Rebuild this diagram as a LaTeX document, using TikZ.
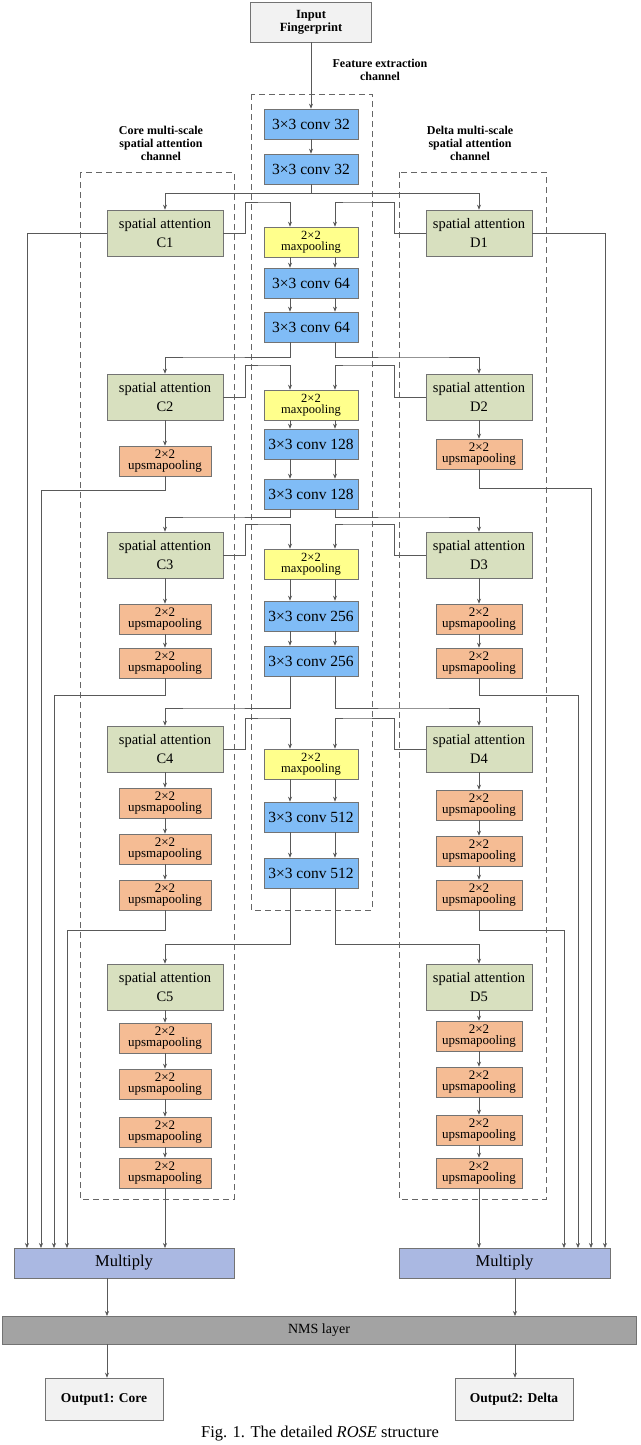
\documentclass[tikz,border=0pt]{standalone}
\usepackage{fontspec}
\setmainfont{Liberation Serif}
\usetikzlibrary{arrows.meta}
\definecolor{cblue}{HTML}{80BCF6}
\definecolor{cyel}{HTML}{FFFF8C}
\definecolor{cgreen}{HTML}{D8E0BF}
\definecolor{corange}{HTML}{F5BC94}
\definecolor{cmul}{HTML}{AAB8E2}
\definecolor{cnms}{HTML}{A3A3A3}
\definecolor{cout}{HTML}{F2F2F2}
\tikzset{
 box/.style={draw=black!55,line width=0.6pt,inner sep=0pt,align=center},
 conv/.style={box,fill=cblue,minimum width=94pt,minimum height=30pt,font=\fontsize{15.5}{16}\selectfont},
 pool/.style={box,fill=cyel,minimum width=94pt,minimum height=30pt,font=\fontsize{12.5}{11}\selectfont},
 sa/.style={box,fill=cgreen,minimum width=116pt,minimum height=46pt,font=\fontsize{14.5}{19}\selectfont},
 ups/.style={box,fill=corange,minimum width=92pt,minimum height=30pt,font=\fontsize{13}{11}\selectfont},
 dbox/.style={draw=black!60,dash pattern=on 6pt off 4pt,line width=0.8pt},
 ttl/.style={font=\bfseries\fontsize{12}{13}\selectfont,align=center},
 arr/.style={draw=black!65,line width=0.6pt,-{Stealth[length=5pt,width=4pt]}},
 ln/.style={draw=black!65,line width=0.6pt}
}
\begin{document}
\begin{tikzpicture}[x=1pt,y=-1pt]
\useasboundingbox (0,0) rectangle (640,1445);
\draw[dbox] (251,94) rectangle (372,910);
\draw[dbox] (80,172) rectangle (234,1199);
\draw[dbox] (399,172) rectangle (546,1199);
\node[ttl] (tf) at (380,70) {Feature extraction\\channel};
\node[ttl] (tc) at (161,143) {Core multi-scale\\spatial attention\\channel};
\node[ttl] (td) at (470,143) {Delta multi-scale\\spatial attention\\channel};
\node[box,fill=cout,minimum width=121pt,minimum height=40pt,font=\bfseries\fontsize{12.5}{13}\selectfont] (in) at (311,22) {Input\\Fingerprint};
\node[conv] (c1) at (311,124) {3×3 conv 32};
\node[conv] (c2) at (311,169) {3×3 conv 32};
\node[pool] (m1) at (311,242) {2×2\\maxpooling};
\node[conv] (c3) at (311,283) {3×3 conv 64};
\node[conv] (c4) at (311,327) {3×3 conv 64};
\node[pool] (m2) at (311,405) {2×2\\maxpooling};
\node[conv] (c5) at (311,444) {3×3 conv 128};
\node[conv] (c6) at (311,494) {3×3 conv 128};
\node[pool] (m3) at (311,564) {2×2\\maxpooling};
\node[conv] (c7) at (311,616) {3×3 conv 256};
\node[conv] (c8) at (311,661) {3×3 conv 256};
\node[pool] (m4) at (311,764) {2×2\\maxpooling};
\node[conv] (c9) at (311,817) {3×3 conv 512};
\node[conv] (c10) at (311,873) {3×3 conv 512};
\node[sa] (C1) at (165,233) {spatial attention\\C1};
\node[sa] (C2) at (165,397) {spatial attention\\C2};
\node[sa] (C3) at (165,555) {spatial attention\\C3};
\node[sa] (C4) at (165,749) {spatial attention\\C4};
\node[sa] (C5) at (165,987) {spatial attention\\C5};
\node[sa,minimum width=106pt] (D1) at (479,233) {spatial attention\\D1};
\node[sa,minimum width=106pt] (D2) at (479,397) {spatial attention\\D2};
\node[sa,minimum width=106pt] (D3) at (479,555) {spatial attention\\D3};
\node[sa,minimum width=106pt] (D4) at (479,749) {spatial attention\\D4};
\node[sa,minimum width=106pt] (D5) at (479,987) {spatial attention\\D5};
\node[ups] (u21) at (165,461) {2×2\\upsmapooling};
\node[ups] (u31) at (165,619) {2×2\\upsmapooling};
\node[ups] (u32) at (165,663) {2×2\\upsmapooling};
\node[ups] (u41) at (165,803) {2×2\\upsmapooling};
\node[ups] (u42) at (165,849) {2×2\\upsmapooling};
\node[ups] (u43) at (165,895) {2×2\\upsmapooling};
\node[ups] (u51) at (165,1038) {2×2\\upsmapooling};
\node[ups] (u52) at (165,1084) {2×2\\upsmapooling};
\node[ups] (u53) at (165,1132) {2×2\\upsmapooling};
\node[ups] (u54) at (165,1173) {2×2\\upsmapooling};
\node[ups,minimum width=86pt] (v21) at (479,454) {2×2\\upsmapooling};
\node[ups,minimum width=86pt] (v31) at (479,619) {2×2\\upsmapooling};
\node[ups,minimum width=86pt] (v32) at (479,663) {2×2\\upsmapooling};
\node[ups,minimum width=86pt] (v41) at (479,805) {2×2\\upsmapooling};
\node[ups,minimum width=86pt] (v42) at (479,851) {2×2\\upsmapooling};
\node[ups,minimum width=86pt] (v43) at (479,895) {2×2\\upsmapooling};
\node[ups,minimum width=86pt] (v51) at (479,1036) {2×2\\upsmapooling};
\node[ups,minimum width=86pt] (v52) at (479,1082) {2×2\\upsmapooling};
\node[ups,minimum width=86pt] (v53) at (479,1130) {2×2\\upsmapooling};
\node[ups,minimum width=86pt] (v54) at (479,1173) {2×2\\upsmapooling};
\node[box,fill=cmul,minimum width=220pt,minimum height=30pt,font=\fontsize{16.5}{17}\selectfont] (ML) at (124,1263) {Multiply};
\node[box,fill=cmul,minimum width=211pt,minimum height=30pt,font=\fontsize{16.5}{17}\selectfont] (MR) at (504.5,1263) {Multiply};
\node[box,fill=cnms,minimum width=634pt,minimum height=28pt,font=\fontsize{14}{15}\selectfont] (nms) at (319,1330) {NMS layer};
\node[box,fill=cout,minimum width=118pt,minimum height=42pt,font=\bfseries\fontsize{13.5}{14}\selectfont] (o1) at (104,1399) {Output1: Core};
\node[box,fill=cout,minimum width=118pt,minimum height=42pt,font=\bfseries\fontsize{13.5}{14}\selectfont] (o2) at (514,1399) {Output2: Delta};
\node[font=\fontsize{16.5}{17}\selectfont] (cap) at (320,1434) {Fig. 1. The detailed \textit{ROSE} structure};
\draw[arr] (in) -- (c1);
\draw[arr] (c1) -- (c2);
\foreach \a/\b in {m1/c3,c3/c4,m2/c5,c5/c6,m3/c7,c7/c8,m4/c9,c9/c10}{
 \draw[arr] ([xshift=-21pt]\a.south) -- ([xshift=-21pt]\b.north);
 \draw[arr] ([xshift=24pt]\a.south) -- ([xshift=24pt]\b.north);}
\draw[ln] (c2.south) -- (311,193);
\draw[arr] (311,193) -| (C1.north);
\draw[arr] (311,193) -| (D1.north);
\foreach \cv/\Cn/\Dn/\ys in {c4/C2/D2/357,c6/C3/D3/517,c8/C4/D4/708,c10/C5/D5/944}{
 \draw[arr] ([xshift=-21pt]\cv.south) |- (200,\ys) -| (\Cn.north);
 \draw[arr] ([xshift=24pt]\cv.south) |- (420,\ys) -| (\Dn.north);}
\foreach \Cn/\Dn/\m/\yf in {C1/D1/m1/202,C2/D2/m2/365,C3/D3/m3/524,C4/D4/m4/718}{
 \draw[arr] (\Cn.east) -- ++(22,0) |- (270,\yf) -| ([xshift=-21pt]\m.north);
 \draw[arr] (\Dn.west) -- ++(-31,0) |- (350,\yf) -| ([xshift=24pt]\m.north);}
\foreach \a/\b in {C2/u21,C3/u31,u31/u32,C4/u41,u41/u42,u42/u43,C5/u51,u51/u52,u52/u53,u53/u54,
 D2/v21,D3/v31,v31/v32,D4/v41,v41/v42,v42/v43,D5/v51,v51/v52,v52/v53,v53/v54}
 \draw[arr] (\a) -- (\b);
\draw[arr] (C1.west) -| (27,1248);
\draw[arr] (u21.south) |- (41,490) -- (41,1248);
\draw[arr] (u32.south) |- (54,695) -- (54,1248);
\draw[arr] (u43.south) |- (67,930) -- (67,1248);
\draw[arr] (u54.south) -- (165,1248);
\draw[arr] (D1.east) -| (605,1248);
\draw[arr] (v21.south) |- (591,488) -- (591,1248);
\draw[arr] (v32.south) |- (578,695) -- (578,1248);
\draw[arr] (v43.south) |- (564,930) -- (564,1248);
\draw[arr] (v54.south) -- (479,1248);
\draw[arr] (107,1278) -- (107,1316);
\draw[arr] (515,1278) -- (515,1316);
\draw[arr] (107,1344) -- (o1.north -| 107,0);
\draw[arr] (515,1344) -- (o2.north -| 515,0);
\end{tikzpicture}
\end{document}
